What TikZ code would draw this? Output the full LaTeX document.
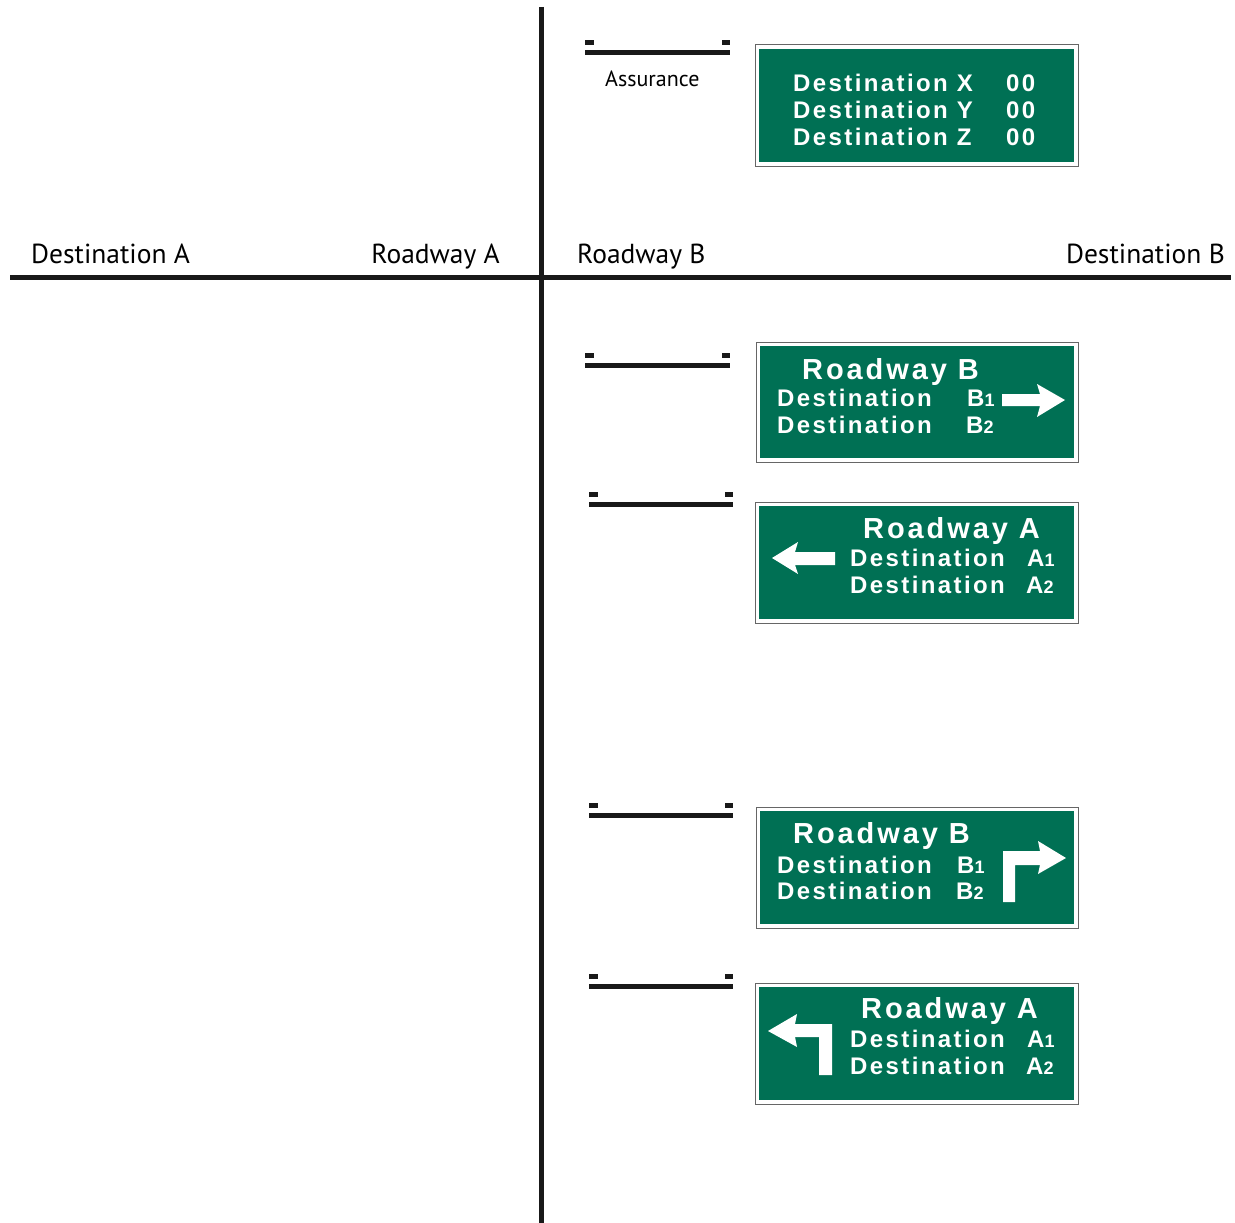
\documentclass[tikz,border=0pt]{standalone}
\usepackage{fontspec}
\usepackage{tikz}
\setsansfont{PT Sans}
\newfontfamily\signfont[LetterSpace=10]{Liberation Sans Bold}
\definecolor{signgreen}{RGB}{0,112,84}
\newcommand\smalldigit[1]{{\fontsize{18}{18}\selectfont #1}}
\tikzset{
  road/.style={line width=5pt, black!90},
  gantrybar/.style={line width=5pt, black!90},
  gantrytab/.style={fill=black!90},
  roadlabel/.style={inner sep=0pt, font=\sffamily\fontsize{27.5}{27.5}\selectfont},
  signframe/.style={draw=black!60, line width=1pt, fill=white, inner sep=0pt,
    path picture={\fill[signgreen] ([shift={(4pt,-4pt)}]path picture bounding box.north west)
      rectangle ([shift={(-4pt,4pt)}]path picture bounding box.south east);}},
  signline/.style={inner sep=0pt, text=white, anchor=base west, font=\signfont\fontsize{24}{24}\selectfont},
  signtitle/.style={signline, font=\signfont\fontsize{29}{29}\selectfont},
  signarrow/.style={fill=white}
}
\begin{document}
\begin{tikzpicture}[x=1pt, y=-1pt]
   \useasboundingbox (0,0) rectangle (1235,1223);
   \coordinate (north) at (541,7);
   \coordinate (south) at (541,1223);
   \coordinate (west) at (10,277);
   \coordinate (east) at (1231,277);
   \draw[road] (north) -- (south);
   \draw[road] (west) -- (east);
   \node[roadlabel, anchor=base west] (destA) at (31,263) {Destination A};
   \node[roadlabel, anchor=base east] (roadA) at (500,263) {Roadway A};
   \node[roadlabel, anchor=base west] (roadB) at (577,263) {Roadway B};
   \node[roadlabel, anchor=base east] (destB) at (1225,263) {Destination B};
   \foreach \xa/\xb/\yb in {585/730/53, 585/730/365, 589/733/504.5, 589/733/815.5, 589/733/986} {
     \draw[gantrybar] (\xa,\yb) -- (\xb,\yb);
     \fill[gantrytab] (\xa,\yb-12.5) rectangle (\xa+8.5,\yb-7.5);
     \fill[gantrytab] (\xb-8.5,\yb-12.5) rectangle (\xb,\yb-7.5);
   }
   \node[inner sep=0pt, anchor=base west, font=\sffamily\fontsize{22}{22}\selectfont] (assurance) at (605,86) {Assurance};
   \foreach \name/\xa/\ya/\xb/\yb in {s1/755/45/1078/166, s2/756/342/1078/462, s3/755/502/1078/623, s4/756/807/1078/928, s5/755/983/1078/1104}
     \node[signframe, minimum width={(\xb-\xa)*1pt}, minimum height={(\yb-\ya)*1pt}] (\name) at ({(\xa+\xb)/2},{(\ya+\yb)/2}) {};
   % assurance sign
   \node[signline] (s1x) at (793,92) {Destination X};
   \node[signline] (s1y) at (793,118) {Destination Y};
   \node[signline] (s1z) at (793,145) {Destination Z};
   \node[signline] (s1xm) at (1006,92) {00};
   \node[signline] (s1ym) at (1006,118) {00};
   \node[signline] (s1zm) at (1006,145) {00};
   % right
   \node[signtitle] (s2t) at (802,379) {Roadway B};
   \node[signline] (s2a) at (777,406) {Destination};
   \node[signline] (s2b) at (777,433) {Destination};
   \node[signline] (s2an) at (967,406) {B\smalldigit{1}};
   \node[signline] (s2bn) at (966,433) {B\smalldigit{2}};
   \fill[signarrow] (1002,394) -- (1040,394) -- (1037,384) -- (1065,400) -- (1037,417) -- (1040,406) -- (1002,406) -- cycle;
   % left
   \node[signtitle] (s3t) at (863,538) {Roadway A};
   \node[signline] (s3a) at (850,566) {Destination};
   \node[signline] (s3b) at (850,593) {Destination};
   \node[signline] (s3an) at (1027,566) {A\smalldigit{1}};
   \node[signline] (s3bn) at (1026,593) {A\smalldigit{2}};
   \fill[signarrow] (835,552) -- (795,552) -- (798,542) -- (772,558) -- (798,574) -- (795,565) -- (835,565) -- cycle;
   % turn right
   \node[signtitle] (s4t) at (793,843) {Roadway B};
   \node[signline] (s4a) at (777,873) {Destination};
   \node[signline] (s4b) at (777,899) {Destination};
   \node[signline] (s4an) at (957,873) {B\smalldigit{1}};
   \node[signline] (s4bn) at (956,899) {B\smalldigit{2}};
   \fill[signarrow] (1003,902) -- (1003,851) -- (1040,851) -- (1038,841) -- (1066,858) -- (1038,874) -- (1040,865) -- (1015,865) -- (1015,902) -- cycle;
   % turn left
   \node[signtitle] (s5t) at (861,1018) {Roadway A};
   \node[signline] (s5a) at (850,1047) {Destination};
   \node[signline] (s5b) at (850,1074) {Destination};
   \node[signline] (s5an) at (1027,1047) {A\smalldigit{1}};
   \node[signline] (s5bn) at (1026,1074) {A\smalldigit{2}};
   \fill[signarrow] (832,1075) -- (832,1024) -- (795,1024) -- (797,1014) -- (768,1031) -- (797,1047) -- (795,1037) -- (819,1037) -- (819,1075) -- cycle;
\end{tikzpicture}
\end{document}
